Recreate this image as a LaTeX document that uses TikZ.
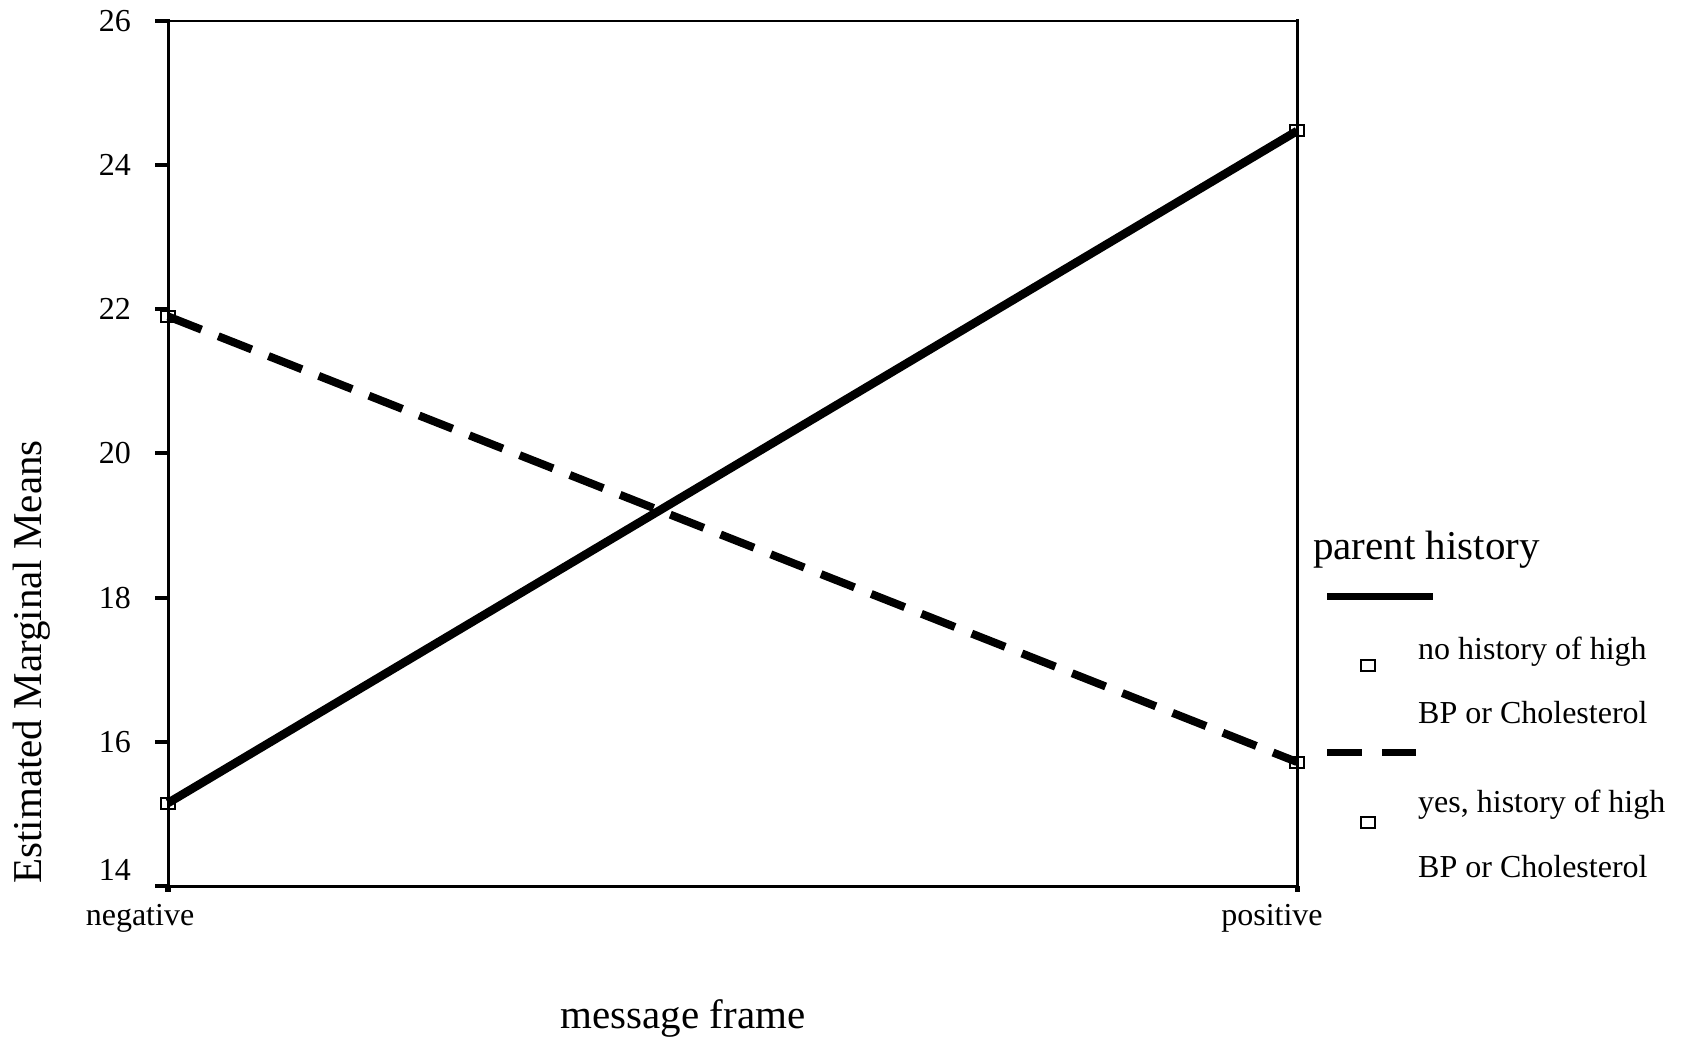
\documentclass[tikz,border=0pt]{standalone}
\usepackage{fontspec}
\setmainfont{Liberation Serif}
\begin{document}
\begin{tikzpicture}[x=1pt,y=-1pt,
  axisline/.style={line width=3pt,line cap=rect},
  tickmark/.style={line width=4pt},
  ticklabel/.style={anchor=east,inner sep=0pt,font=\fontsize{32pt}{38pt}\selectfont},
  catlabel/.style={inner sep=0pt,font=\fontsize{32pt}{38pt}\selectfont},
  biglabel/.style={inner sep=0pt,font=\fontsize{41pt}{48pt}\selectfont},
  legtext/.style={anchor=west,inner sep=0pt,font=\fontsize{32pt}{38pt}\selectfont},
  solidseries/.style={line width=8.5pt},
  dashseries/.style={line width=8pt,dash pattern=on 36pt off 18pt},
  marker/.style={draw,line width=2pt,minimum width=14pt,minimum height=11pt,inner sep=0pt}
]
\useasboundingbox (0,0) rectangle (1681,1040);
% frame
\coordinate (tl) at (168,20.8);
\coordinate (bl) at (168,886);
\coordinate (tr) at (1297,20.8);
\coordinate (br) at (1297,886);
\draw[axisline] (tl) -- (bl);
\draw[axisline] (tr) -- (br);
\draw[line width=2.5pt] (tl) -- (tr);
\draw[axisline] (bl) -- (br);
% y ticks
\foreach \v/\yy in {26/20.8,24/165,22/309.2,20/453.4,18/597.6,16/741.8,14/886}{
  \coordinate (t\v a) at (155,\yy);
  \coordinate (t\v b) at (168,\yy);
  \draw[tickmark] (t\v a) -- (t\v b);
}
\foreach \v/\yy in {26/20.8,24/165,22/309.2,20/453.4,18/597.6,16/741.8}{
  \node[ticklabel] (l\v) at (131,\yy) {\v};
}
\node[ticklabel] (l14) at (131,870) {14};
% x ticks
\coordinate (xa1) at (168,886); \coordinate (xa2) at (168,892);
\coordinate (xb1) at (1297,886); \coordinate (xb2) at (1297,892);
\draw[line width=6pt] (xa1) -- (xa2);
\draw[line width=5pt] (xb1) -- (xb2);
\node[catlabel] (neg) at (140,918) {negative};
\node[catlabel] (pos) at (1272,918) {positive};
% axis titles
\node[biglabel,rotate=90] (ytitle) at (32,662) {Estimated Marginal Means};
\node[biglabel] (xtitle) at (683,1018) {message frame};
% data
\coordinate (n1) at (168,803);
\coordinate (n2) at (1297,131);
\coordinate (y1) at (168,316.4);
\coordinate (y2) at (1297,762);
\draw[solidseries] (n1) -- (n2);
\draw[dashseries] (y1) -- (y2);
\node[marker] (mn1) at (n1) {};
\node[marker] (mn2) at (n2) {};
\node[marker] (my1) at (y1) {};
\node[marker] (my2) at (y2) {};
% legend
\node[legtext,font=\fontsize{41pt}{48pt}\selectfont] (lt) at (1313,550) {parent history};
\coordinate (ls1) at (1327,596); \coordinate (ls2) at (1433,596);
\draw[solidseries,line width=7pt] (ls1) -- (ls2);
\node[marker] (lm1) at (1368,665) {};
\node[legtext] (le1a) at (1418,652) {no history of high};
\node[legtext] (le1b) at (1418,713) {BP or Cholesterol};
\coordinate (ld1) at (1327,752); \coordinate (ld2) at (1416,752);
\draw[line width=7pt,dash pattern=on 35pt off 20pt] (ld1) -- (ld2);
\node[marker] (lm2) at (1368,822) {};
\node[legtext] (le2a) at (1418,805) {yes, history of high};
\node[legtext] (le2b) at (1418,867) {BP or Cholesterol};
\end{tikzpicture}
\end{document}
